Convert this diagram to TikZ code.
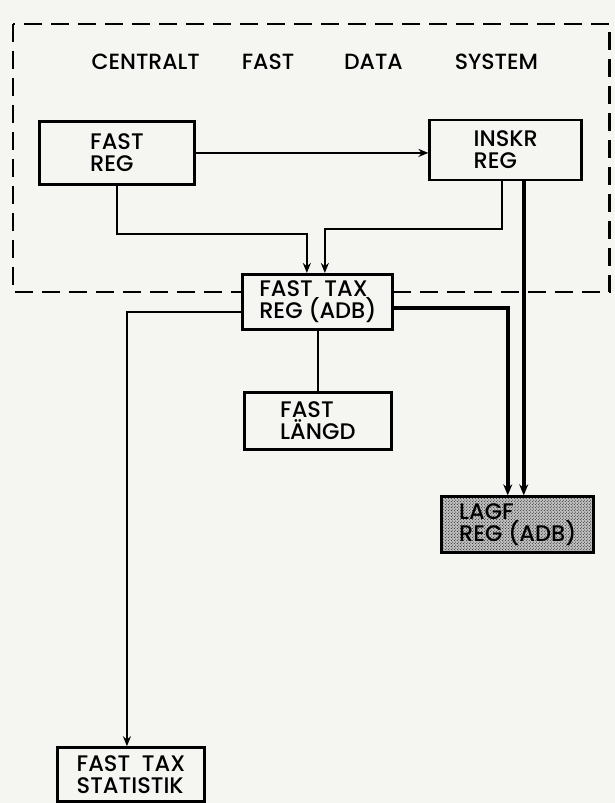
\documentclass[tikz,border=0pt]{standalone}
\usepackage{fontspec}
\setmainfont{Poppins Medium}
\usetikzlibrary{arrows.meta,positioning,patterns,calc}
\definecolor{paper}{RGB}{245,245,242}
\definecolor{lagfgray}{RGB}{195,195,195}

\begin{document}
\begin{tikzpicture}[x=1pt, y=-1pt,
    reg/.style={draw, line width=2.8pt, fill=paper, minimum width=#1, minimum height=57pt, align=left, inner sep=0pt, font=\fontsize{22.5}{22}\selectfont},
    reg/.default=150pt,
    flow/.style={line width=2.4pt, -{Stealth[length=10pt,width=8pt]}},
    heavy/.style={line width=4pt, -{Stealth[length=11pt,width=9pt]}},
]
\fill[paper] (0,0) rectangle (615,803);
\draw[dash pattern=on 18pt off 9pt, line width=2.6pt] (13,24) rectangle (610,292);
\node[font=\fontsize{22}{22}\selectfont] (title) at (315,62) {CENTRALT\hspace{42pt}FAST\hspace{50pt}DATA\hspace{52pt}SYSTEM};

\node[reg=155pt, minimum height=63pt] (freg) at (117,153) {FAST\\REG};
\node[reg=152pt, minimum height=60pt] (inskr) at (506,150) {INSKR\\REG};
\node[reg=150pt, minimum height=55pt] (ftax) at (318,302) {FAST\ \ TAX\\REG (ADB)};
\node[reg=147pt] (flangd) at (318,421) {FAST\\LÄNGD};
\node[reg=152pt, minimum height=56pt, fill=lagfgray, postaction={pattern=crosshatch dots}] (lagf) at (518,525) {LAGF\\REG (ADB)};
\node[reg=147pt, minimum height=54pt] (stat) at (131,775) {FAST\ \ TAX\\STATISTIK};

\coordinate (inL) at ([xshift=-11pt]ftax.north);
\coordinate (inR) at ([xshift=7pt]ftax.north);
\coordinate (lagL) at ([xshift=-10pt]lagf.north);
\coordinate (lagR) at ([xshift=6pt]lagf.north);
\coordinate (statIn) at ([xshift=-4pt]stat.north);

\draw[flow] (freg.east) -- (freg.east -| inskr.west);
\draw[flow] (freg.south) -- ++(0,48) -| (inL);
\draw[flow] ([xshift=-4pt]inskr.south) -- ++(0,48) -| (inR);
\draw[heavy] (inskr.south -| lagR) -- (lagR);
\draw[heavy] ([yshift=-6pt]ftax.east) -| (lagL);
\draw[flow] ([yshift=-10pt]ftax.west) -| (statIn);
\draw[line width=2.4pt] (ftax.south) -- (flangd.north);
\end{tikzpicture}
\end{document}
